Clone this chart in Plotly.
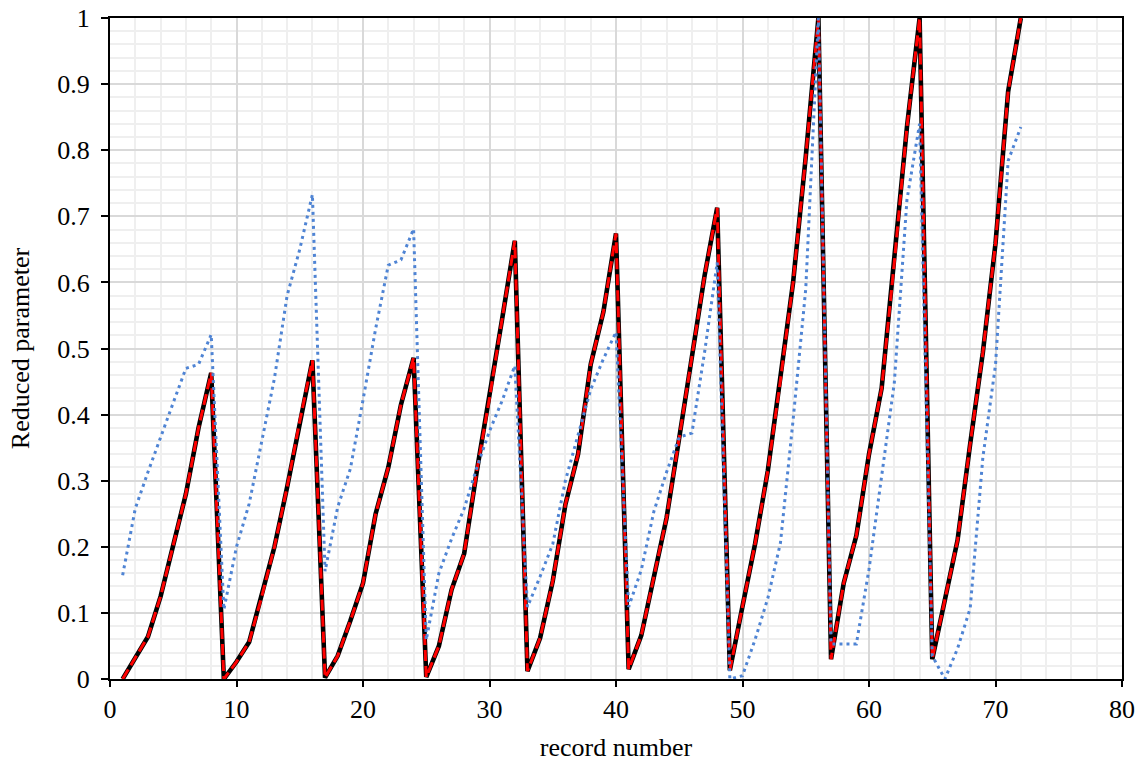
import plotly.graph_objects as go

record = list(range(1, 73))

measured = [
    0.000, 0.032, 0.064, 0.125, 0.203, 0.280, 0.380, 0.463,
    0.000, 0.026, 0.056, 0.125, 0.200, 0.290, 0.390, 0.482,
    0.002, 0.035, 0.088, 0.145, 0.250, 0.320, 0.415, 0.486,
    0.003, 0.050, 0.135, 0.190, 0.315, 0.425, 0.545, 0.663,
    0.012, 0.062, 0.148, 0.264, 0.340, 0.476, 0.555, 0.674,
    0.015, 0.066, 0.155, 0.244, 0.365, 0.490, 0.610, 0.713,
    0.013, 0.110, 0.205, 0.315, 0.452, 0.600, 0.790, 1.000,
    0.030, 0.145, 0.217, 0.340, 0.440, 0.630, 0.835, 1.000,
    0.030, 0.120, 0.210, 0.356, 0.494, 0.659, 0.889, 1.000,
]

predicted = list(measured)

alternative = [
    0.157, 0.258, 0.313, 0.364, 0.418, 0.470, 0.476, 0.521,
    0.105, 0.200, 0.265, 0.360, 0.455, 0.580, 0.650, 0.733,
    0.163, 0.260, 0.318, 0.422, 0.530, 0.626, 0.634, 0.681,
    0.059, 0.160, 0.212, 0.258, 0.320, 0.375, 0.421, 0.474,
    0.109, 0.155, 0.204, 0.300, 0.370, 0.438, 0.484, 0.525,
    0.109, 0.165, 0.254, 0.313, 0.366, 0.372, 0.494, 0.630,
    0.000, 0.005, 0.060, 0.122, 0.206, 0.392, 0.590, 1.000,
    0.053, 0.053, 0.053, 0.166, 0.303, 0.448, 0.725, 0.840,
    0.035, 0.000, 0.046, 0.107, 0.335, 0.475, 0.784, 0.835,
]

fig = go.Figure()
fig.add_trace(go.Scatter(x=record, y=measured, mode="lines",
                         line=dict(color="#000000", width=4.6), showlegend=False))
fig.add_trace(go.Scatter(x=record, y=predicted, mode="lines",
                         line=dict(color="#ff0000", width=3.0, dash="11px,5px"), showlegend=False))
fig.add_trace(go.Scatter(x=record, y=alternative, mode="lines",
                         line=dict(color="#4f84d4", width=3.0, dash="3px,4px"), showlegend=False))

font = dict(family="Liberation Serif", size=26, color="#000000")

fig.update_layout(
    width=1142, height=762,
    margin=dict(l=110, r=20, t=18, b=83),
    paper_bgcolor="white", plot_bgcolor="white",
    font=font,
    xaxis=dict(
        range=[0, 80], dtick=10, tick0=0,
        automargin=False,
        showgrid=True, gridcolor="#d9d9d9", gridwidth=1.5,
        minor=dict(dtick=2, showgrid=True, gridcolor="#efefef", gridwidth=1.5, ticks=""),
        showline=True, linecolor="#000000", linewidth=2, mirror=True,
        ticks="outside", ticklen=6, tickwidth=1.5, tickcolor="#000000",
        ticklabelstandoff=0,
        zeroline=False,
        title=dict(text="record number", font=font, standoff=20),
        tickfont=font,
    ),
    yaxis=dict(
        range=[0, 1], dtick=0.1, tick0=0,
        automargin=False,
        showgrid=True, gridcolor="#d9d9d9", gridwidth=1.5,
        minor=dict(dtick=0.02, showgrid=True, gridcolor="#efefef", gridwidth=1.5, ticks=""),
        showline=True, linecolor="#000000", linewidth=2, mirror=True,
        ticks="outside", ticklen=7, tickwidth=1.5, tickcolor="#000000",
        ticklabelstandoff=6,
        zeroline=False,
        title=dict(text="Reduced parameter", font=font, standoff=20),
        tickfont=font,
    ),
)

fig.write_html("out.html")
